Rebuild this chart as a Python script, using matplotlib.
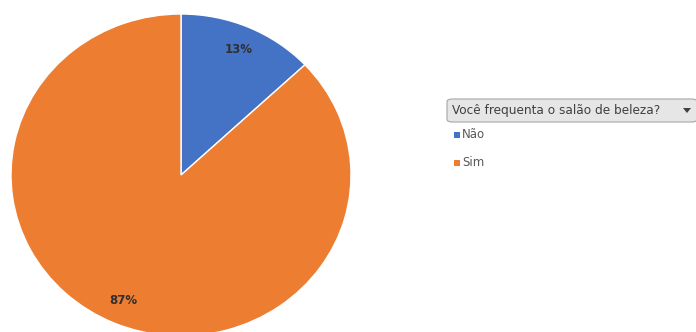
import matplotlib.pyplot as plt
from matplotlib.patches import FancyBboxPatch, Rectangle, Polygon

categories = ['Não', 'Sim']
values = [13, 87]
colors = ['#4472C4', '#ED7D31']
legend_title = 'Você frequenta o salão de beleza?'

fig = plt.figure(figsize=(6.96, 3.32), dpi=100)

# pie axes, slightly stretched like the original screenshot
ax = fig.add_axes([11 / 696, -4 / 332, 340 / 696, 322 / 332])
ax.pie(values, colors=colors, startangle=90, counterclock=False,
       autopct='%1.0f%%', pctdistance=0.85,
       wedgeprops=dict(edgecolor='white', linewidth=1),
       textprops=dict(fontsize=8.5, color='#303030', fontweight='bold'))
ax.set_aspect('auto')
ax.set_xlim(-1, 1)
ax.set_ylim(-1, 1)
ax.axis('off')

# legend (drawn by hand to look like the pivot chart field button)
W, H = 696, 332
def fx(px):
    return px / W
def fy(py):
    return 1 - py / H

box = FancyBboxPatch((fx(447), fy(122)), fx(697) - fx(447), fy(99) - fy(122),
                     boxstyle='round,pad=0,rounding_size=0.008',
                     transform=fig.transFigure, facecolor='#e6e6e6',
                     edgecolor='#a6a6a6', linewidth=0.8)
fig.patches.append(box)
fig.text(fx(452), fy(110.5), legend_title, fontsize=8.7, color='#404040',
         va='center', ha='left')
arrow = Polygon([(fx(683), fy(108)), (fx(691), fy(108)), (fx(687), fy(113))],
                closed=True, transform=fig.transFigure, facecolor='#404040',
                edgecolor='none')
fig.patches.append(arrow)

ys = [135, 163]
for cat, col, py in zip(categories, colors, ys):
    sq = Rectangle((fx(454), fy(py + 3)), fx(6), 6 / H,
                   transform=fig.transFigure, facecolor=col, edgecolor='none')
    fig.patches.append(sq)
    fig.text(fx(462), fy(py), cat, fontsize=8.5, color='#595959',
             va='center', ha='left')

plt.savefig('out.png', dpi=100)
